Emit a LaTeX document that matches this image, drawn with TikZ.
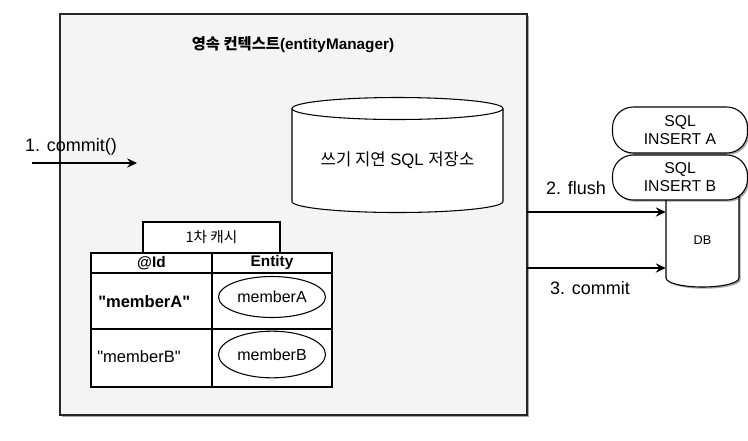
\documentclass[tikz,border=0pt]{standalone}
\usepackage{fontspec}
\setmainfont{Liberation Sans}[Ligatures=TeXOff]
\newfontfamily\kr{Noto Sans CJK KR}
\usetikzlibrary{arrows.meta,shadows,shapes.geometric}
\definecolor{ctxgray}{RGB}{244,244,244}
\begin{document}
\begin{tikzpicture}[x=0.75pt,y=-0.75pt,
  shad/.style={drop shadow={shadow xshift=1.3pt,shadow yshift=-1.3pt,fill=black,opacity=0.35}},
  ctxbox/.style={draw=black!85,line width=1.2pt,fill=ctxgray,inner sep=0,outer sep=0,shad},
  cell/.style={draw,line width=0.9pt,fill=white,inner sep=0,outer sep=0},
  ent/.style={draw,ellipse,line width=0.8pt,fill=white,inner sep=0,font=\fontsize{12}{14}\selectfont},
  sqlbox/.style={draw,line width=0.8pt,fill=white,rounded corners=15.5pt,inner sep=0,
    minimum width=101.25pt,align=center,font=\fontsize{11.8}{13.5}\selectfont,shad},
  lbl/.style={inner sep=0,font=\fontsize{13.5}{16}\selectfont},
  arr/.style={line width=1pt,-{Stealth[length=7.5pt,width=7pt,inset=2.6pt]}},
  txt/.style={inner sep=0}]
\useasboundingbox (0,0) rectangle (748,440);
% persistence context
\node[ctxbox,minimum width=350.25pt,minimum height=300.75pt] (ctx) at (293.5,214.5) {};
\node[txt,font=\fontsize{11.5}{14}\selectfont\bfseries] (title) at (293,45) {{\kr 영속 컨텍스트}(entityManager)};
% write-behind SQL store (cylinder)
\filldraw[fill=white,line width=0.8pt]
  (292,108.5) -- (292,201.5) arc[start angle=180,end angle=360,x radius=79.125pt,y radius=8.25pt]
  -- (503,108.5) arc[start angle=0,end angle=180,x radius=79.125pt,y radius=8.25pt] -- cycle;
\draw[line width=0.8pt] (292,108.5) arc[start angle=180,end angle=360,x radius=79.125pt,y radius=8.25pt];
\node[txt,font=\fontsize{12.5}{15}\selectfont] (store) at (397.5,160) {{\kr 쓰기 지연} SQL {\kr 저장소}};
% commit arrow
\node[lbl] (commit1) at (71,147) {1. commit()};
\coordinate (c1s) at (32,163);
\coordinate (c1e) at (137,163);
\draw[arr] (c1s) -- (c1e);
% 1st level cache
\node[cell,minimum width=102.75pt,minimum height=23.25pt] (cache) at (211.5,237.5) {{\kr\fontsize{11}{13}\selectfont 1차 캐시}};
\node[cell,minimum width=90.75pt,minimum height=15pt,font=\fontsize{11.5}{13}\selectfont\bfseries] (h1) at (151.5,263) {@Id};
\node[cell,minimum width=90pt,minimum height=15pt,font=\fontsize{11.5}{13}\selectfont\bfseries] (h2) at (272,263) {Entity};
\node[cell,minimum width=90.75pt,minimum height=42pt] (r1c1) at (151.5,301) {};
\node[cell,minimum width=90pt,minimum height=42pt] (r1c2) at (272,301) {};
\node[cell,minimum width=90.75pt,minimum height=43.5pt] (r2c1) at (151.5,358) {};
\node[cell,minimum width=90pt,minimum height=43.5pt] (r2c2) at (272,358) {};
\node[txt,anchor=west,font=\fontsize{12.4}{14}\selectfont\bfseries] (ida) at (98,302) {"memberA"};
\node[txt,anchor=west,font=\fontsize{12.4}{14}\selectfont] (idb) at (97,357) {"memberB"};
\node[ent,minimum width=80.25pt,minimum height=30.75pt] (ea) at (272,297) {memberA};
\node[ent,minimum width=80.25pt,minimum height=35pt] (eb) at (272,354.5) {memberB};
% DB
\filldraw[fill=white,line width=0.8pt,shad]
  (666,188) -- (666,278) arc[start angle=180,end angle=360,x radius=27.375pt,y radius=6.75pt]
  -- (739,188) -- cycle;
\node[txt,font=\fontsize{9.5}{11}\selectfont,minimum width=54.75pt,minimum height=60pt] (db) at (702.5,240) {DB};
\node[sqlbox,minimum height=34.5pt] (sqla) at (680,130) {SQL\\INSERT A};
\node[sqlbox,minimum height=33.75pt] (sqlb) at (680,177.5) {SQL\\INSERT B};
% flush & commit
\node[lbl] (flush) at (576,188) {2. flush};
\node[lbl] (commit3) at (590,288) {3. commit};
\draw[arr] (ctx.east |- 0,212) -- (db.west |- 0,212);
\draw[arr] (ctx.east |- 0,268) -- (db.west |- 0,268);
\end{tikzpicture}
\end{document}
